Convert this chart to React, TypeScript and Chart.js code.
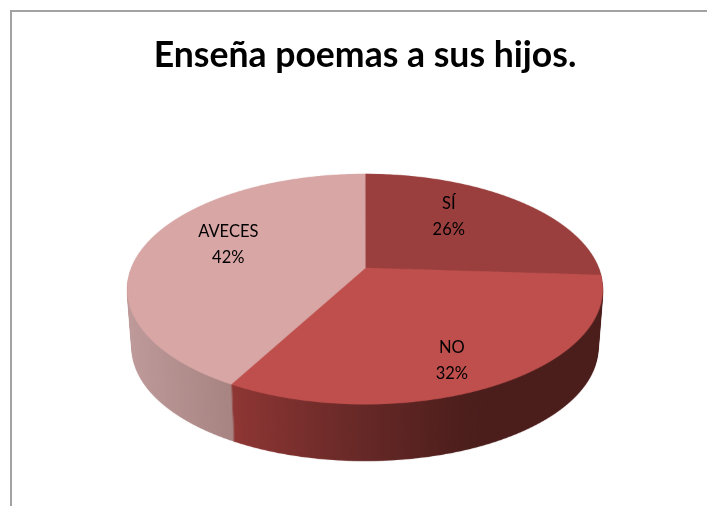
import React, { useEffect, useRef } from "react";
import { Chart, registerables } from "chart.js";

Chart.register(...registerables);

const TITLE = "Enseña poemas a sus hijos.";
const categories = ["SÍ", "NO", "AVECES"];
const percentages = [26, 32, 42];
const faceColors = ["#9A3F3D", "#BE4F4C", "#D7A6A5"];
// Side-wall shading per slice: [fraction of pie width, colour]
const wallStops: [number, string][][] = [
  [[0, "#5A2422"], [1, "#4B1E1C"]],
  [[0.21, "#903735"], [0.45, "#6C2B29"], [0.72, "#4C1E1C"], [1, "#4B1E1C"]],
  [[0, "#BE9A9A"], [0.21, "#A88583"]],
];
// Label anchors in the pie's own unit-circle coordinates (u: right, v: front)
const labelAnchors = [
  [0.392, -0.5],
  [0.323, 0.725],
  [-0.609, -0.215],
];

// Perspective projection of the pie disc
const APEX_Y = 256;
const PROJ_X = 233.3;
const PROJ_Y = 111.2;
const PROJ_Q = -0.1826;
const DEPTH = 59;
const DEPTH_SHRINK = 0.02;
const SS = 3;
const SRC_R = 720;

function project(u: number, v: number, cx: number) {
  const w = 1 + PROJ_Q * v;
  return { x: cx + (PROJ_X * u) / w, y: APEX_Y + (PROJ_Y * v) / w };
}

function makeCanvas(w: number, h: number) {
  const c = document.createElement("canvas");
  c.width = w;
  c.height = h;
  return c;
}

function warpArcs(arcs: any[], W: number, H: number, cx: number) {
  const S = 2 * SRC_R + 16;
  const src = makeCanvas(S, S);
  const sctx = src.getContext("2d")!;
  const first = arcs[0];
  const k = SRC_R / first.outerRadius;
  sctx.setTransform(k, 0, 0, k, S / 2 - first.x * k, S / 2 - first.y * k);
  arcs.forEach((a) => a.draw(sctx));

  const out = makeCanvas(W * SS, H * SS);
  const o = out.getContext("2d")!;
  o.imageSmoothingEnabled = true;
  o.imageSmoothingQuality = "high";
  const vOf = (y: number) => y / (PROJ_Y - PROJ_Q * y);
  for (let row = 0; row < H * SS; row++) {
    const y0 = row / SS - APEX_Y;
    const v0 = vOf(y0);
    const v1 = vOf(y0 + 1 / SS);
    if (v1 < -1.01 || v0 > 1.01) continue;
    const w = 1 + PROJ_Q * ((v0 + v1) / 2);
    const half = ((S / (2 * SRC_R)) * PROJ_X * SS) / w;
    o.drawImage(
      src,
      0,
      S / 2 + SRC_R * v0,
      S,
      Math.max(SRC_R * (v1 - v0), 0.5),
      cx * SS - half,
      row,
      2 * half,
      1
    );
  }
  return out;
}

const pie3d = {
  id: "pie3d",
  beforeDatasetsDraw(chart: any) {
    const arcs = chart.getDatasetMeta(0).data;
    const W = chart.width;
    const H = chart.height;
    const cx = arcs[0].x;
    const ctx = chart.ctx;
    ctx.save();
    ctx.imageSmoothingEnabled = true;
    ctx.imageSmoothingQuality = "high";

    // Walls: each slice warped, tinted with its gradient, then stacked.
    const left = cx - PROJ_X * 1.017;
    const width = 2 * PROJ_X * 1.017;
    const walls = arcs.map((arc: any, i: number) => {
      const img = warpArcs([arc], W, H, cx);
      const g = img.getContext("2d")!;
      const grad = g.createLinearGradient(left * SS, 0, (left + width) * SS, 0);
      wallStops[i].forEach(([p, c]) => grad.addColorStop(p, c));
      g.globalCompositeOperation = "source-in";
      g.fillStyle = grad;
      g.fillRect(0, 0, W * SS, H * SS);
      return img;
    });
    const midY = APEX_Y + 21;
    for (let d = DEPTH; d >= 1; d--) {
      const t = d / DEPTH;
      const s = 1 - DEPTH_SHRINK * t;
      walls.forEach((img: HTMLCanvasElement) => {
        ctx.drawImage(img, cx - cx * s, midY - midY * s + d, W * s, H * s);
      });
    }

    // Top face
    const face = warpArcs(arcs, W, H, cx);
    ctx.drawImage(face, 0, 0, W, H);

    // Labels
    ctx.fillStyle = "#000000";
    ctx.font = "16.5px Lato";
    ctx.textAlign = "center";
    ctx.textBaseline = "middle";
    arcs.forEach((_: any, i: number) => {
      const p = project(labelAnchors[i][0], labelAnchors[i][1], cx);
      ctx.fillText(categories[i], p.x, p.y - 13);
      ctx.fillText(percentages[i] + "%", p.x, p.y + 13);
    });
    ctx.restore();
    return false;
  },
};

export default function App() {
  const ref = useRef<HTMLCanvasElement | null>(null);
  useEffect(() => {
    document.body.style.overflow = "hidden";
    const chart = new Chart(ref.current!, {
      type: "pie",
      data: {
        labels: categories,
        datasets: [
          {
            data: percentages,
            backgroundColor: faceColors,
            borderColor: faceColors,
            borderWidth: 1,
          },
        ],
      },
      options: {
        responsive: false,
        animation: false,
        layout: { padding: { left: 11 } },
        plugins: {
          legend: { display: false },
          tooltip: { enabled: false },
          title: {
            display: true,
            text: TITLE,
            color: "#000000",
            font: { family: "Lato", size: 35.6, weight: "bold" },
            padding: { top: 22, bottom: 10 },
          },
        },
      },
      plugins: [pie3d],
    } as any);
    return () => chart.destroy();
  }, []);
  return (
    <div
      style={{
        position: "absolute",
        left: 10,
        top: 10,
        width: 697,
        height: 496,
        boxSizing: "border-box",
        borderLeft: "2px solid #A3A3A3",
        borderTop: "2px solid #A3A3A3",
        background: "#FFFFFF",
        overflow: "hidden",
      }}
    >
      <canvas ref={ref} width={695} height={494} style={{ display: "block" }} />
    </div>
  );
}
